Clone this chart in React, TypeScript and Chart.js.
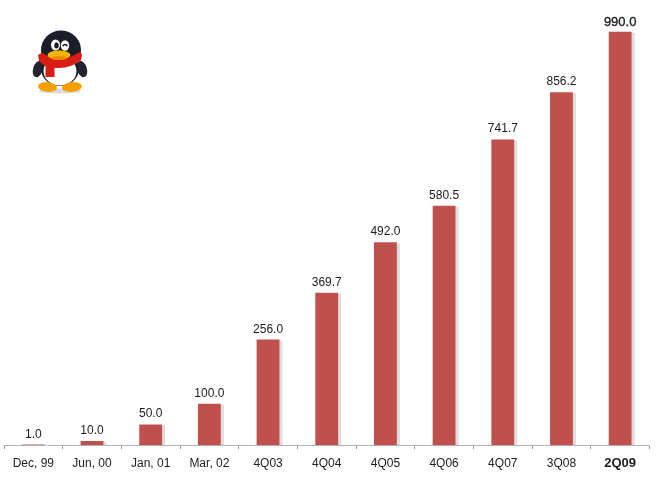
import React, { useEffect, useRef } from "react";
import { Chart, registerables } from "chart.js";

Chart.register(...registerables);

const categories = ["Dec, 99", "Jun, 00", "Jan, 01", "Mar, 02", "4Q03", "4Q04", "4Q05", "4Q06", "4Q07", "3Q08", "2Q09"];
// Printed labels of the reference.
const values = [1.0, 10.0, 50.0, 100.0, 256.0, 369.7, 492.0, 580.5, 741.7, 856.2, 990.0];
// Bar heights: the reference's last bar is drawn a little taller than its label implies.
const barHeights = [1.0, 10.0, 50.0, 100.0, 256.0, 369.7, 492.0, 580.5, 741.7, 856.2, 1003.0];
const lastIndex = categories.length - 1;
const FONT = '"Liberation Sans", Arial, sans-serif';

const barExtras = {
  id: "barExtras",
  beforeDatasetsDraw(chart: any) {
    const { ctx } = chart;
    const bars = chart.getDatasetMeta(0).data;
    ctx.save();
    ctx.fillStyle = "#dddddd";
    bars.forEach((b: any) => {
      const { x, y, base, width } = b.getProps(["x", "y", "base", "width"], true);
      ctx.fillRect(x + width / 2, y + 1, 3, base - y - 1);
    });
    ctx.restore();
  },
  afterDatasetsDraw(chart: any) {
    const { ctx } = chart;
    const bars = chart.getDatasetMeta(0).data;
    ctx.save();
    ctx.textAlign = "center";
    ctx.textBaseline = "alphabetic";
    bars.forEach((b: any, i: number) => {
      const { x, y } = b.getProps(["x", "y"], true);
      const last = i === lastIndex;
      const text = values[i].toFixed(1);
      ctx.fillStyle = "#1c1c1c";
      ctx.font = `${last ? 13 : 12}px ${FONT}`;
      const ty = last ? y - 5.5 : y - 7;
      ctx.fillText(text, x, ty);
      if (last) {
        ctx.strokeStyle = "#1c1c1c";
        ctx.lineWidth = 0.35;
        ctx.strokeText(text, x, ty);
      }
    });
    ctx.restore();
  },
};

function ell(ctx: CanvasRenderingContext2D, x: number, y: number, rx: number, ry: number, rot: number, fill: string) {
  ctx.fillStyle = fill;
  ctx.beginPath();
  ctx.ellipse(x, y, rx, ry, rot, 0, Math.PI * 2);
  ctx.fill();
}

const penguin = {
  id: "penguin",
  afterDraw(chart: any) {
    const ctx: CanvasRenderingContext2D = chart.ctx;
    ctx.save();
    ell(ctx, 60, 91, 21, 2.5, 0, "rgba(130,130,130,0.3)");
    ell(ctx, 38, 69, 4.8, 8.5, 0.3, "#232430");
    ell(ctx, 82, 69, 4.8, 8.5, -0.3, "#232430");
    ell(ctx, 61, 50, 20, 19.5, 0, "#1c1d28");
    ell(ctx, 60, 69, 19, 17, 0, "#1c1d28");
    ell(ctx, 60, 71, 16.5, 14.5, 0, "#ffffff");
    ell(ctx, 47.5, 87, 9.5, 4.8, 0.1, "#f5a000");
    ell(ctx, 72, 87, 10, 4.8, -0.1, "#f5a000");
    ell(ctx, 55.5, 45, 4.5, 5.5, 0, "#ffffff");
    ell(ctx, 65, 45.5, 4.2, 5.2, 0, "#ffffff");
    ell(ctx, 56.5, 45.5, 2.2, 3, 0, "#15151c");
    ctx.strokeStyle = "#15151c";
    ctx.lineWidth = 1.5;
    ctx.beginPath();
    ctx.arc(65, 47, 2.4, Math.PI * 1.1, Math.PI * 1.9);
    ctx.stroke();
    ctx.fillStyle = "#d81e14";
    ctx.beginPath();
    ctx.moveTo(38, 55);
    ctx.quadraticCurveTo(41, 52, 44, 54);
    ctx.quadraticCurveTo(60, 64, 78, 53);
    ctx.quadraticCurveTo(81, 51, 82, 55);
    ctx.lineTo(81, 60);
    ctx.quadraticCurveTo(70, 69, 56, 68);
    ctx.quadraticCurveTo(44, 67, 39, 61);
    ctx.closePath();
    ctx.fill();
    ctx.fillRect(45.5, 65, 9, 12);
    ell(ctx, 59, 55, 11.5, 4.5, 0, "#f7b500");
    ell(ctx, 59, 58, 8, 2, 0, "#e88a00");
    ctx.restore();
  },
};

export default function App() {
  const ref = useRef<HTMLCanvasElement>(null);
  useEffect(() => {
    document.body.style.margin = "0";
    const chart = new Chart(ref.current!, {
      type: "bar",
      data: {
        labels: categories,
        datasets: [{ data: barHeights, backgroundColor: "#c0504d", barPercentage: 0.39, categoryPercentage: 1 }],
      },
      options: {
        responsive: false,
        animation: false,
        layout: { padding: { left: 4, right: 20.5, top: 0, bottom: 0 } },
        plugins: { legend: { display: false }, title: { display: false }, tooltip: { enabled: false } },
        scales: {
          y: { display: false, min: 0, max: 1080 },
          x: {
            afterFit(scale: any) {
              scale.height = 55;
            },
            border: { color: "#b0b0b0", width: 1 },
            grid: { drawOnChartArea: false, tickLength: 4, color: "#9a9a9a" },
            ticks: {
              color: "#1c1c1c",
              maxRotation: 0,
              autoSkip: false,
              padding: 7,
              font: (c: any) => ({
                family: FONT,
                size: c.index === lastIndex ? 13 : 12,
                weight: c.index === lastIndex ? "bold" : "normal",
              }),
            },
          },
        },
      },
      plugins: [barExtras, penguin],
    } as any);
    return () => chart.destroy();
  }, []);
  return <canvas ref={ref} width={670} height={500} style={{ display: "block", background: "#fff" }} />;
}
